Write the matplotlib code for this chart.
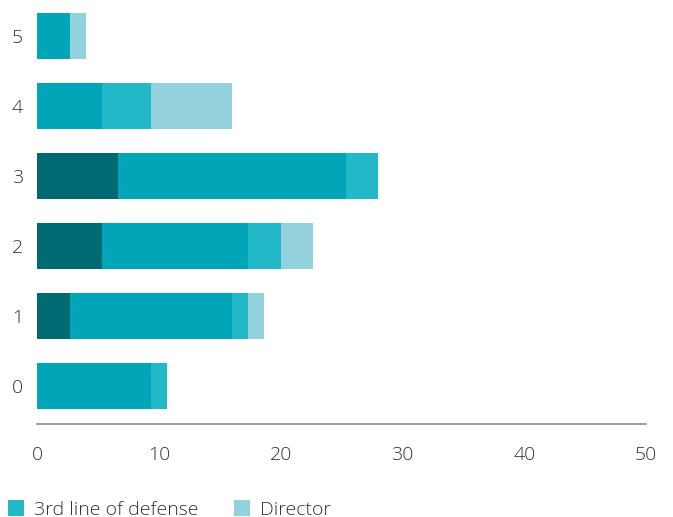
import matplotlib
matplotlib.use("Agg")
import matplotlib.pyplot as plt
from matplotlib.patches import Patch

# Share of respondents (%) per category, stacked by role
categories = ["0", "1", "2", "3", "4", "5"]
first_line = [0.0, 2.67, 5.33, 6.67, 0.0, 0.0]
second_line = [9.33, 13.33, 12.0, 18.67, 5.33, 2.67]
third_line = [1.33, 1.33, 2.67, 2.67, 4.0, 0.0]
director = [0.0, 1.33, 2.67, 0.0, 6.67, 1.33]

series = [
    ("1st line of defense", first_line, "#006A73"),
    ("2nd line of defense", second_line, "#00A5B8"),
    ("3rd line of defense", third_line, "#22B8C8"),
    ("Director", director, "#93D2DC"),
]

x_ticks = [0, 10, 20, 30, 40, 50]

plt.rcParams["font.family"] = ["Open Sans", "DejaVu Sans"]
text_color = "#333333"

fig = plt.figure(figsize=(6.73, 5.17), dpi=100)
ax = fig.add_axes([37 / 673, 1 - 424 / 517, 609 / 673, 424 / 517])

ypos = list(range(len(categories)))
left = [0.0] * len(categories)
for name, vals, color in series:
    ax.barh(ypos, vals, left=left, height=0.66, color=color, label=name, linewidth=0)
    left = [a + b for a, b in zip(left, vals)]

ax.set_xlim(0, 50)
ax.set_ylim(-0.54, 5.52)
ax.set_xticks(x_ticks)
ax.set_xticklabels([str(t) for t in x_ticks])
ax.set_yticks(ypos)
ax.set_yticklabels(categories)

for side in ["top", "right", "left"]:
    ax.spines[side].set_visible(False)
ax.spines["bottom"].set_color("#8a8a8a")
ax.spines["bottom"].set_linewidth(1.2)
ax.tick_params(axis="both", length=0, labelsize=14, labelcolor=text_color)
ax.tick_params(axis="x", pad=16)
ax.tick_params(axis="y", pad=10)
for lbl in ax.get_xticklabels() + ax.get_yticklabels():
    lbl.set_fontweight("light")

handles = [
    Patch(facecolor="#22B8C8", label="3rd line of defense"),
    Patch(facecolor="#93D2DC", label="Director"),
]
leg = fig.legend(
    handles=handles,
    loc="lower left",
    bbox_to_anchor=(0.0, -0.018),
    ncol=2,
    frameon=False,
    fontsize=14,
    handlelength=0.85,
    handleheight=0.85,
    handletextpad=0.5,
    columnspacing=1.8,
    borderaxespad=0.0,
)
for t in leg.get_texts():
    t.set_color(text_color)
    t.set_fontweight("light")

fig.savefig("out.png", dpi=100)
